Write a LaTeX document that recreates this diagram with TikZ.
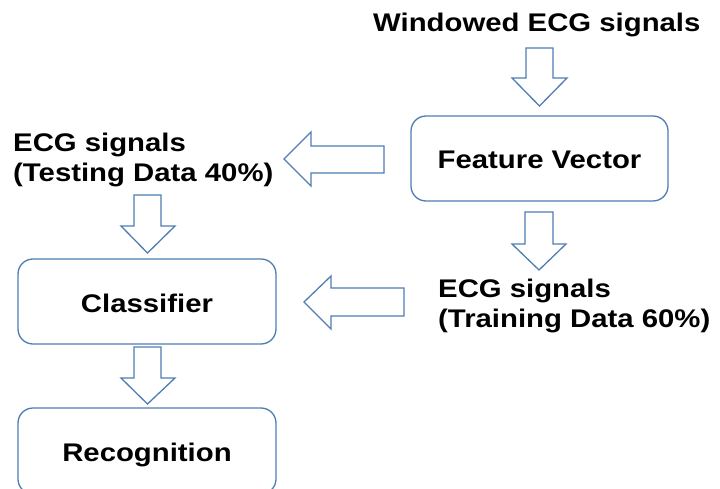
\documentclass[tikz,border=0pt]{standalone}
\usepackage{fontspec}
\setmainfont{Liberation Sans}[FakeStretch=1.15]
\definecolor{lineblue}{RGB}{79,125,180}
\tikzset{
  box/.style={draw=lineblue, line width=1.3pt, rounded corners=15pt},
  barrow/.style={draw=lineblue, line width=1.3pt, line join=miter, fill=white},
  lbl/.style={inner sep=0pt, anchor=base west, font=\bfseries\fontsize{25.5}{30}\selectfont, text=black},
  lblc/.style={inner sep=0pt, anchor=base, font=\bfseries\fontsize{25.5}{30}\selectfont, text=black}
}
\begin{document}
\begin{tikzpicture}[x=1pt,y=-1pt]
\useasboundingbox (0,0) rectangle (720,489);
\clip (0,0) rectangle (720,489);
% boxes
\draw[box] (411,116) rectangle (668,201);
\node[lblc] (fv) at (539.5,169) {Feature Vector};
\draw[box] (18,259) rectangle (276,344);
\node[lblc] (cls) at (147,312) {Classifier};
\draw[box] (18,408) rectangle (276,494);
\node[lblc] (rec) at (147,461) {Recognition};
% texts
\node[lbl] (win) at (373,32) {Windowed ECG signals};
\node[lbl] (testA) at (13,152) {ECG signals};
\node[lbl] (testB) at (13,182) {(Testing Data 40\%)};
\node[lbl] (trainA) at (438,297) {ECG signals};
\node[lbl] (trainB) at (438,327) {(Training Data 60\%)};
% block arrows
% windowed -> feature vector
\draw[barrow] (526,48) -- (553,48) -- (553,78) -- (567,78) -- (539.5,106) -- (512,78) -- (526,78) -- cycle;
% feature vector -> training
\draw[barrow] (525,212) -- (553,212) -- (553,244) -- (566,244) -- (539,270) -- (512,244) -- (525,244) -- cycle;
% feature vector -> testing
\draw[barrow] (384,146) -- (384,173) -- (311,173) -- (311,186) -- (284,159) -- (311,132) -- (311,146) -- cycle;
% testing -> classifier
\draw[barrow] (134,195) -- (161,195) -- (161,226) -- (175,226) -- (147.5,253) -- (121,226) -- (134,226) -- cycle;
% training -> classifier
\draw[barrow] (404,288) -- (404,316) -- (331,316) -- (331,329) -- (304,302) -- (331,276) -- (331,288) -- cycle;
% classifier -> recognition
\draw[barrow] (134,347) -- (161,347) -- (161,378) -- (175,378) -- (147.5,404) -- (121,378) -- (134,378) -- cycle;
\end{tikzpicture}
\end{document}
